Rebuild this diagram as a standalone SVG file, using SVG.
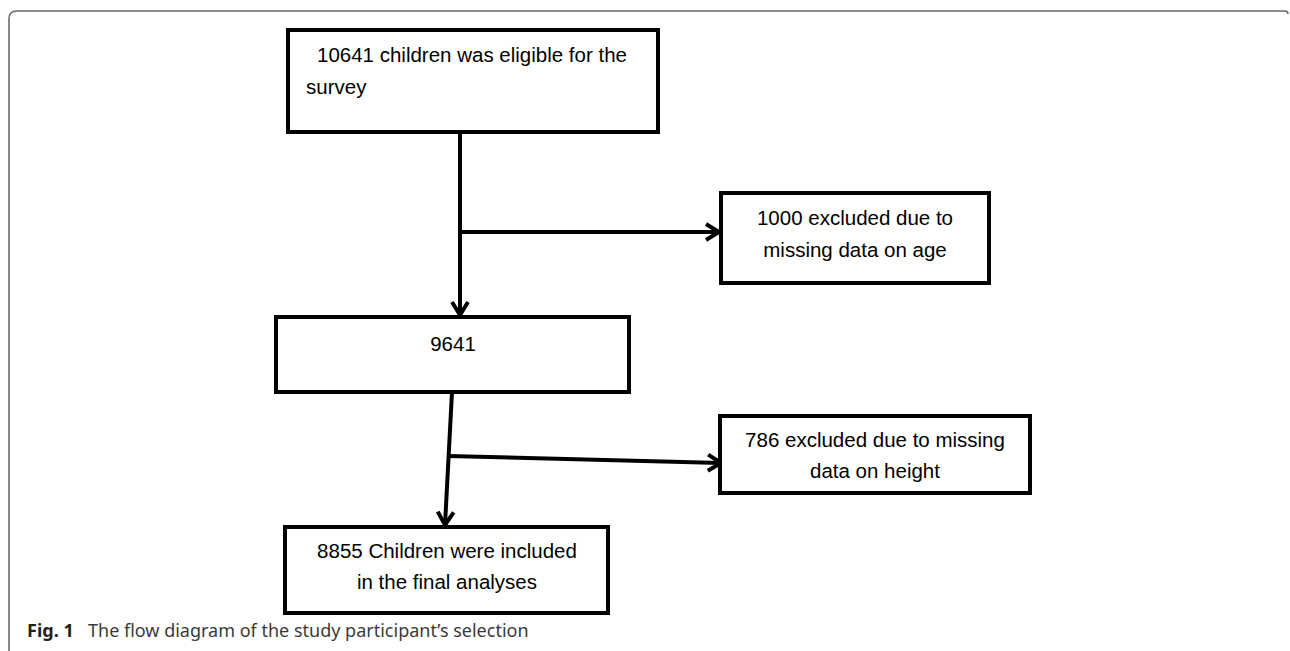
<svg xmlns="http://www.w3.org/2000/svg" width="1290" height="651" viewBox="0 0 1290 651">
<defs>
<style>
.box{fill:#fff;stroke:#000;stroke-width:4;stroke-linejoin:miter}
.t{font-family:"Liberation Sans",Arial,sans-serif;font-size:20.5px;fill:#000}
.c{text-anchor:middle}
.conn{fill:none;stroke:#000;stroke-width:4;stroke-linecap:butt}
.cap{font-family:"Noto Sans","Open Sans",sans-serif;font-size:18px}
</style>
<marker id="arr" markerUnits="userSpaceOnUse" markerWidth="24" markerHeight="24" viewBox="-16 -12 24 24" refX="0" refY="0" orient="auto">
<path d="M-13,-8 L0,0 L-13,8" fill="none" stroke="#000" stroke-width="4" stroke-linejoin="miter"/>
</marker>
</defs>
<rect width="1290" height="651" fill="#fff"/>
<path d="M9,651 L9,19 Q9,11 17,11 L1285,11 Q1288,11 1288,14" fill="none" stroke="#6a6a6a" stroke-width="1.6"/>
<g id="connectors">
<line class="conn" x1="460" y1="132" x2="460" y2="315" marker-end="url(#arr)"/>
<line class="conn" x1="460" y1="232" x2="719" y2="232" marker-end="url(#arr)"/>
<line class="conn" x1="452" y1="392" x2="445" y2="525" marker-end="url(#arr)"/>
<line class="conn" x1="448" y1="456" x2="721" y2="463" marker-end="url(#arr)"/>
</g>
<g id="n1">
<rect class="box" x="288" y="30" width="370" height="102"/>
<text class="t" x="317" y="62">10641 children was eligible for the</text>
<text class="t" x="306" y="94">survey</text>
</g>
<g id="n2">
<rect class="box" x="721" y="193" width="268" height="90"/>
<text class="t c" x="855" y="225">1000 excluded due to</text>
<text class="t c" x="855" y="257">missing data on age</text>
</g>
<g id="n3">
<rect class="box" x="276" y="317" width="353" height="75"/>
<text class="t c" x="453" y="351">9641</text>
</g>
<g id="n4">
<rect class="box" x="720" y="416" width="310" height="77"/>
<text class="t c" x="875" y="447">786 excluded due to missing</text>
<text class="t c" x="875" y="478">data on height</text>
</g>
<g id="n5">
<rect class="box" x="285" y="527" width="323" height="86"/>
<text class="t c" x="447" y="558">8855 Children were included</text>
<text class="t c" x="447" y="589">in the final analyses</text>
</g>
<g id="caption">
<text class="cap" x="27" y="637" font-weight="bold" fill="#231f20">Fig. 1</text>
<text class="cap" x="88" y="637" fill="#3a3a3a">The flow diagram of the study participant’s selection</text>
</g>
</svg>
